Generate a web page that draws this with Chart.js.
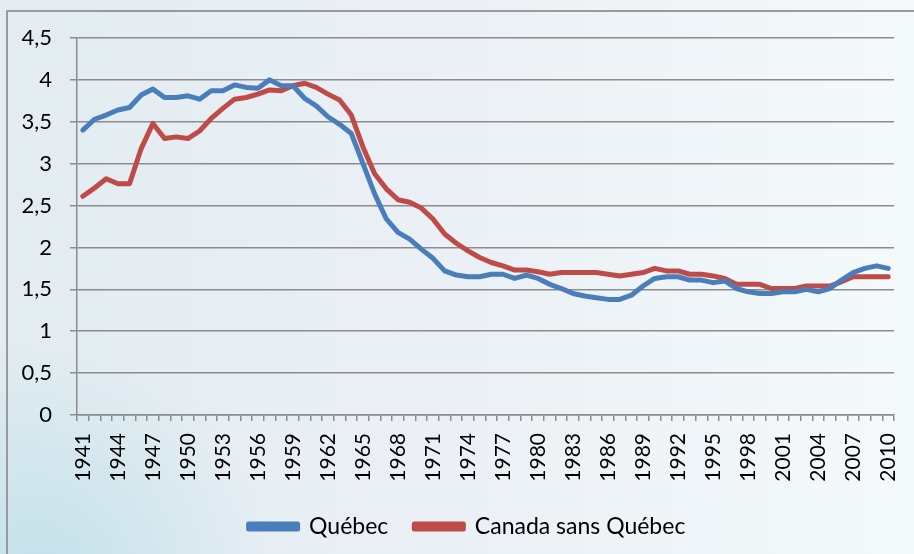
<!DOCTYPE html>
<html>
<head>
<meta charset="utf-8">
<script src="https://cdn.jsdelivr.net/npm/chart.js@4.4.0/dist/chart.umd.min.js"></script>
<style>
  html, body { margin: 0; padding: 0; }
  #wrap { width: 914px; height: 554px; position: relative; }
</style>
</head>
<body>
<div id="wrap"><canvas id="chart" width="914" height="554"></canvas></div>
<script>
// années 1941 - 2010
const years = [];
for (let y = 1941; y <= 2010; y++) years.push(String(y));

// indice synthétique de fécondité
const quebec = [
  3.40, 3.53, 3.58, 3.64, 3.67, 3.82, 3.89, 3.79, 3.79, 3.81,
  3.77, 3.87, 3.87, 3.94, 3.91, 3.90, 4.00, 3.93, 3.93, 3.78,
  3.69, 3.56, 3.47, 3.36, 3.00, 2.64, 2.34, 2.18, 2.10, 1.98,
  1.87, 1.72, 1.67, 1.65, 1.65, 1.68, 1.68, 1.63, 1.67, 1.63,
  1.56, 1.51, 1.45, 1.42, 1.40, 1.38, 1.38, 1.43, 1.54, 1.63,
  1.65, 1.65, 1.61, 1.61, 1.58, 1.60, 1.51, 1.47, 1.45, 1.45,
  1.47, 1.47, 1.50, 1.47, 1.51, 1.61, 1.70, 1.75, 1.78, 1.75
];

const canadaSansQuebec = [
  2.61, 2.71, 2.82, 2.76, 2.76, 3.18, 3.48, 3.30, 3.32, 3.30,
  3.39, 3.54, 3.66, 3.77, 3.79, 3.83, 3.88, 3.87, 3.93, 3.96,
  3.91, 3.83, 3.76, 3.58, 3.20, 2.88, 2.70, 2.57, 2.54, 2.47,
  2.34, 2.16, 2.05, 1.96, 1.88, 1.82, 1.78, 1.73, 1.73, 1.71,
  1.68, 1.70, 1.70, 1.70, 1.70, 1.68, 1.66, 1.68, 1.70, 1.75,
  1.72, 1.72, 1.68, 1.68, 1.66, 1.63, 1.56, 1.56, 1.56, 1.51,
  1.51, 1.51, 1.54, 1.54, 1.54, 1.59, 1.65, 1.65, 1.65, 1.65
];

const yTicks = [0, 0.5, 1, 1.5, 2, 2.5, 3, 3.5, 4, 4.5];

// fond dégradé + cadre
const fond = {
  id: "fond",
  beforeDraw(chart) {
    const ctx = chart.ctx;
    const w = chart.width, h = chart.height;
    ctx.save();
    let g = ctx.createLinearGradient(0, 0, w, 0);
    g.addColorStop(0, "#e2ecf1");
    g.addColorStop(0.5, "#ebf0f6");
    g.addColorStop(1, "#f4f9fb");
    ctx.fillStyle = g;
    ctx.fillRect(0, 0, w, h);
    let r = ctx.createRadialGradient(40, h + 30, 10, 40, h + 30, 240);
    r.addColorStop(0, "rgba(170,215,228,0.55)");
    r.addColorStop(1, "rgba(170,215,228,0)");
    ctx.fillStyle = r;
    ctx.fillRect(0, 0, w, h);
    ctx.strokeStyle = "#9a9a9a";
    ctx.lineWidth = 2;
    ctx.beginPath();
    ctx.moveTo(7, h + 5);
    ctx.lineTo(7, 11);
    ctx.lineTo(w + 5, 11);
    ctx.stroke();
    ctx.restore();
  }
};

// la légende est un peu décalée vers la droite
const decaleLegende = {
  id: "decaleLegende",
  afterLayout(chart) {
    chart.legend.left += 40;
  }
};

new Chart(document.getElementById("chart"), {
  type: "line",
  data: {
    labels: years,
    datasets: [
      {
        label: "Québec",
        data: quebec,
        borderColor: "#4a7ebb",
        backgroundColor: "#4a7ebb",
        borderWidth: 5,
        pointRadius: 0,
        tension: 0,
        borderCapStyle: "round",
        borderJoinStyle: "round"
      },
      {
        label: "Canada sans Québec",
        data: canadaSansQuebec,
        borderColor: "#be4b48",
        backgroundColor: "#be4b48",
        borderWidth: 5,
        pointRadius: 0,
        tension: 0,
        borderCapStyle: "round",
        borderJoinStyle: "round"
      }
    ]
  },
  options: {
    responsive: false,
    animation: false,
    layout: { padding: { top: 38, right: 20, left: 0, bottom: 6 } },
    plugins: {
      tooltip: { enabled: false },
      legend: {
        position: "bottom",
        labels: {
          color: "#000",
          font: { family: "Lato", size: 23 },
          boxWidth: 49,
          boxHeight: 5,
          padding: 26
        }
      }
    },
    scales: {
      x: {
        offset: true,
        grid: {
          offset: true,
          drawOnChartArea: false,
          drawTicks: true,
          tickLength: 6,
          color: "#8c8c8c",
          lineWidth: 1.5
        },
        border: { color: "#8c8c8c", width: 1.5 },
        ticks: {
          autoSkip: false,
          maxRotation: 90,
          minRotation: 90,
          padding: 12,
          color: "#000",
          font: { family: "Lato", size: 21 },
          callback: function (v, i) {
            return i % 3 === 0 ? years[i] : "";
          }
        },
        afterFit: function (s) {
          s.height = 74;
          s.paddingRight = 0;
          s.paddingLeft = 0;
        }
      },
      y: {
        min: 0,
        max: 4.5,
        afterBuildTicks: function (s) {
          s.ticks = yTicks.map((v) => ({ value: v }));
        },
        grid: {
          color: "#8c8c8c",
          lineWidth: 1.5,
          tickLength: 7
        },
        border: { color: "#8c8c8c", width: 1.5 },
        ticks: {
          padding: 18,
          color: "#000",
          font: { family: "Lato", size: 22 },
          callback: function (v) {
            return String(v).replace(".", ",");
          }
        },
        afterFit: function (s) { s.width = 77; }
      }
    }
  },
  plugins: [fond, decaleLegende]
});
</script>
</body>
</html>
